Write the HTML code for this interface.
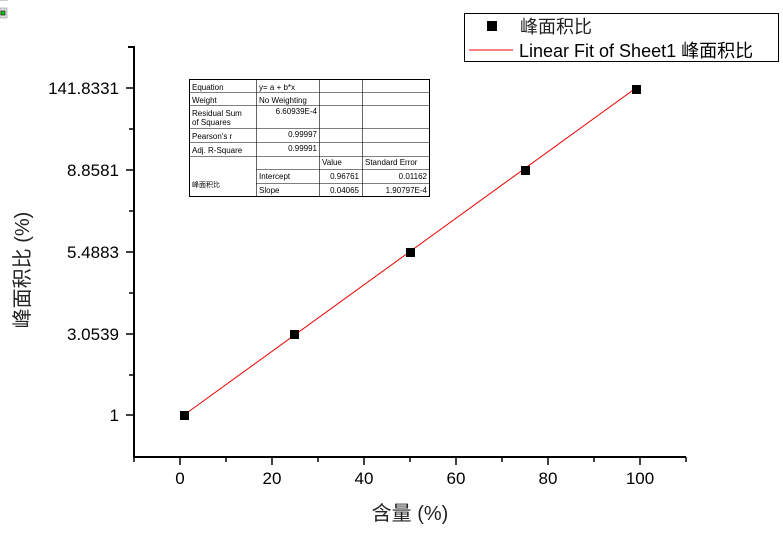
<!DOCTYPE html>
<html><head><meta charset="utf-8"><style>
body{margin:0;background:#fff;width:783px;height:533px;overflow:hidden}
svg{display:block}
text{font-family:"Liberation Sans","Noto Sans CJK SC",sans-serif}
</style></head><body>
<svg width="783" height="533" viewBox="0 0 783 533">
<rect x="0" y="0" width="8" height="1" fill="#ccc"/>
<rect x="0" y="8" width="7" height="10" fill="#ddd" stroke="#888" stroke-width="0.5"/>
<rect x="1" y="11" width="4" height="4" fill="#1c1" stroke="#000" stroke-width="0.6"/>
<g stroke="#000" stroke-width="2" fill="none">
<line x1="134" y1="47" x2="134" y2="458"/>
<line x1="133" y1="457" x2="686" y2="457"/>
<line x1="128" y1="47" x2="135" y2="47"/>
</g>
<g stroke="#000" stroke-width="1.5">
<line x1="126" y1="88" x2="134" y2="88"/><line x1="129" y1="129" x2="134" y2="129"/>
<line x1="126" y1="170" x2="134" y2="170"/><line x1="129" y1="211" x2="134" y2="211"/>
<line x1="126" y1="252" x2="134" y2="252"/><line x1="129" y1="293" x2="134" y2="293"/>
<line x1="126" y1="334" x2="134" y2="334"/><line x1="129" y1="375" x2="134" y2="375"/>
<line x1="126" y1="415" x2="134" y2="415"/>
<line x1="134" y1="457" x2="134" y2="462"/><line x1="180" y1="457" x2="180" y2="465"/>
<line x1="226" y1="457" x2="226" y2="462"/><line x1="272" y1="457" x2="272" y2="465"/>
<line x1="318" y1="457" x2="318" y2="462"/><line x1="364" y1="457" x2="364" y2="465"/>
<line x1="410" y1="457" x2="410" y2="462"/><line x1="456" y1="457" x2="456" y2="465"/>
<line x1="502" y1="457" x2="502" y2="462"/><line x1="548" y1="457" x2="548" y2="465"/>
<line x1="594" y1="457" x2="594" y2="462"/><line x1="640" y1="457" x2="640" y2="465"/>
<line x1="686" y1="457" x2="686" y2="462"/>
</g>
<g font-size="17" text-anchor="end" fill="#000">
<text x="119" y="94">141.8331</text>
<text x="119" y="176">8.8581</text>
<text x="119" y="258">5.4883</text>
<text x="119" y="340">3.0539</text>
<text x="119" y="421">1</text>
</g>
<g font-size="17" text-anchor="middle" fill="#000">
<text x="180" y="484">0</text><text x="272" y="484">20</text><text x="364" y="484">40</text>
<text x="456" y="484">60</text><text x="548" y="484">80</text><text x="640" y="484">100</text>
</g>
<text x="410" y="520" font-size="20" text-anchor="middle" fill="#222">含量 (%)</text>
<text transform="translate(29,270) rotate(-90)" font-size="20" text-anchor="middle" fill="#222">峰面积比 (%)</text>
<line x1="184" y1="415" x2="636" y2="88" stroke="#e00" stroke-width="1"/>
<g fill="#000">
<rect x="180" y="411" width="9" height="9"/>
<rect x="290" y="330" width="9" height="9"/>
<rect x="406" y="248" width="9" height="9"/>
<rect x="521" y="166" width="9" height="9"/>
<rect x="632" y="85" width="9" height="9"/>
</g>
<rect x="464.5" y="13.5" width="314" height="48" fill="#fff" stroke="#000" stroke-width="1"/>
<rect x="487" y="21" width="10" height="10" fill="#000"/>
<text x="520" y="33" font-size="18" fill="#222">峰面积比</text>
<line x1="469" y1="50" x2="513" y2="50" stroke="#e00" stroke-width="1"/>
<text x="519" y="57" font-size="18" fill="#000">Linear Fit of Sheet1 峰面积比</text>
<g stroke="#000" stroke-width="0.6" fill="none">
<rect x="189.5" y="79.5" width="240" height="117" stroke-width="1"/>
<line x1="189" y1="92.5" x2="430" y2="92.5"/>
<line x1="189" y1="105.5" x2="430" y2="105.5"/>
<line x1="189" y1="128.5" x2="430" y2="128.5"/>
<line x1="189" y1="142.5" x2="430" y2="142.5"/>
<line x1="189" y1="156.5" x2="430" y2="156.5"/>
<line x1="256" y1="169.5" x2="430" y2="169.5"/>
<line x1="256" y1="183.5" x2="430" y2="183.5"/>
<line x1="256.5" y1="79" x2="256.5" y2="197"/>
<line x1="319.5" y1="79" x2="319.5" y2="197"/>
<line x1="362.5" y1="79" x2="362.5" y2="197"/>
</g>
<g fill="#000" font-size="8">
<text x="192" y="90">Equation</text>
<text x="259" y="90">y= a + b*x</text>
<text x="192" y="103">Weight</text>
<text x="259" y="103">No Weighting</text>
<text x="192" y="116">Residual Sum</text>
<text x="192" y="125">of Squares</text>
<text x="317" y="114" text-anchor="end">6.60939E-4</text>
<text x="192" y="139">Pearson's r</text>
<text x="317" y="137" text-anchor="end">0.99997</text>
<text x="192" y="153">Adj. R-Square</text>
<text x="317" y="151" text-anchor="end">0.99991</text>
<text x="322" y="165">Value</text>
<text x="365" y="165">Standard Error</text>
<text x="192" y="187" font-size="7">峰面积比</text>
<text x="259" y="179">Intercept</text>
<text x="359" y="179" text-anchor="end">0.96761</text>
<text x="427" y="179" text-anchor="end">0.01162</text>
<text x="259" y="193">Slope</text>
<text x="359" y="193" text-anchor="end">0.04065</text>
<text x="427" y="193" text-anchor="end">1.90797E-4</text>
</g>
</svg>
</body></html>
